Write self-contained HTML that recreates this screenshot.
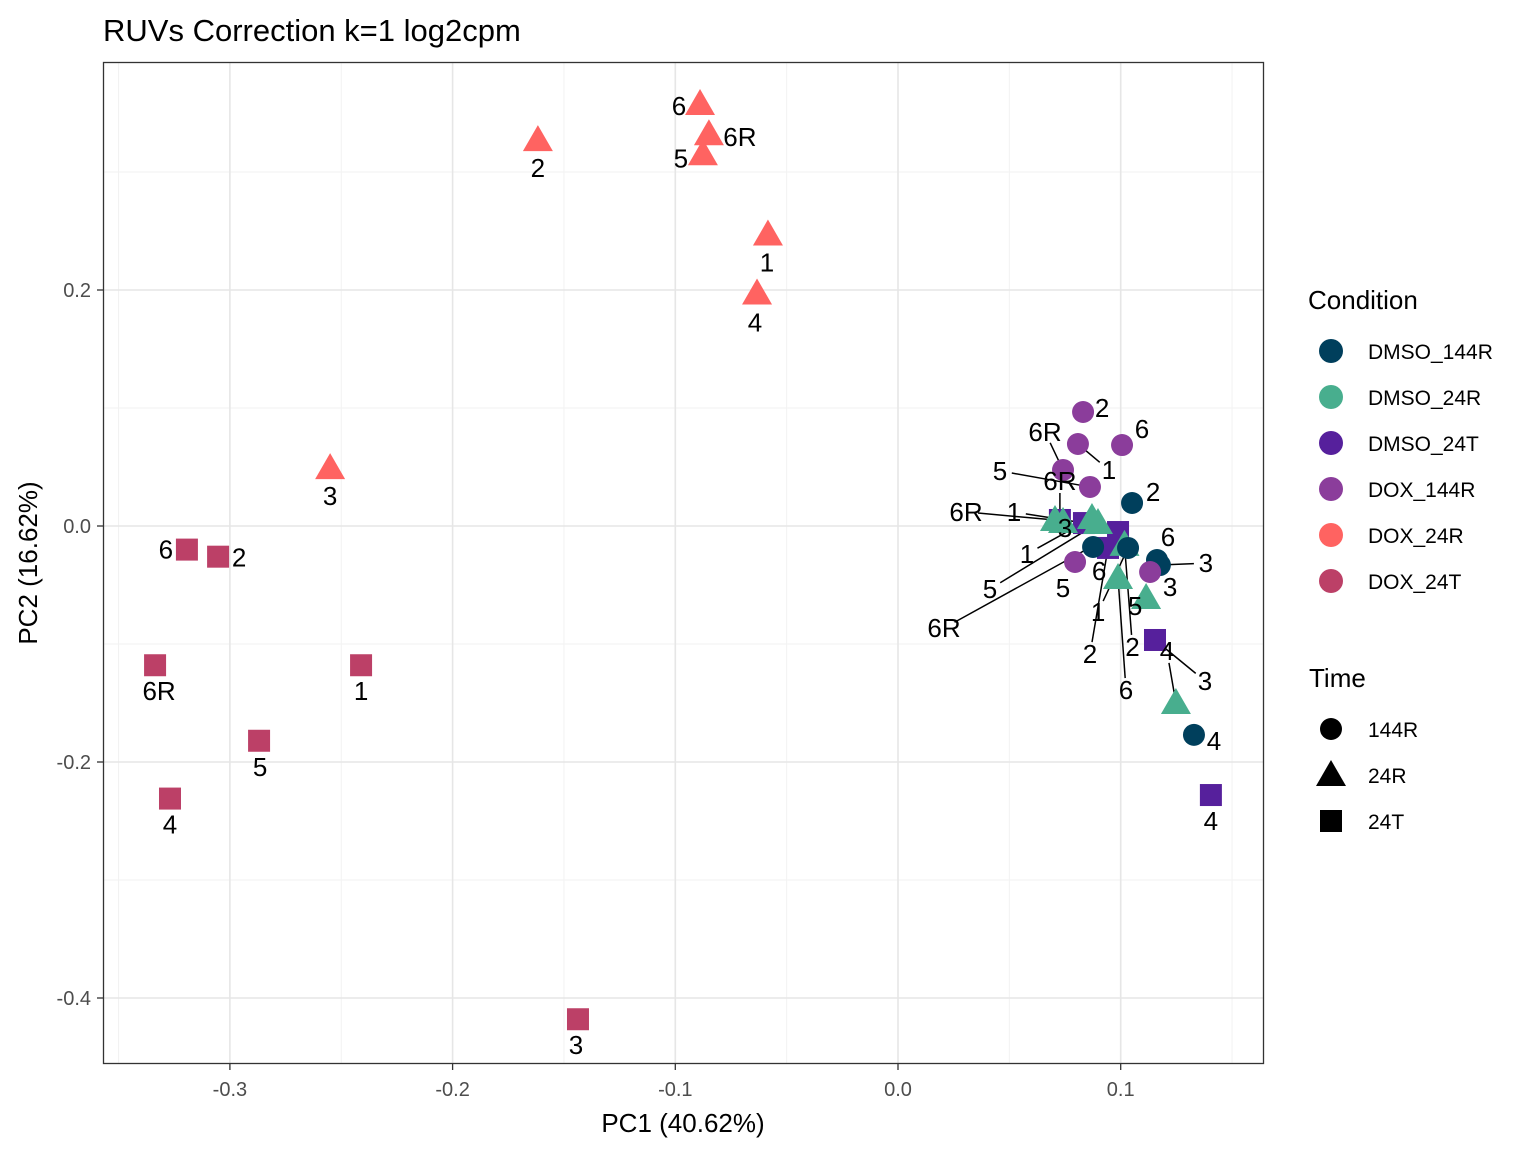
<!DOCTYPE html>
<html><head><meta charset="utf-8"><style>
html,body{margin:0;padding:0;background:#fff;}
svg{display:block;font-family:"Liberation Sans",sans-serif;}
</style></head><body>
<svg id="chart" width="1536" height="1152" viewBox="0 0 1536 1152">
<text x="103" y="41" font-size="31" fill="#000">RUVs Correction k=1 log2cpm</text>
<g id="grid"></g>
<g id="segs"></g>
<g id="pts"></g>
<g id="labs"></g>
<rect x="103.5" y="62.5" width="1160" height="1001" fill="none" stroke="#333" stroke-width="1.3"/>
<g id="axes"></g>
<text x="683" y="1132" font-size="26" text-anchor="middle">PC1 (40.62%)</text>
<text transform="translate(37,563) rotate(-90)" font-size="26" text-anchor="middle">PC2 (16.62%)</text>
<g id="legend"></g>
</svg>
<script>
const xTicks=[-0.3,-0.2,-0.1,0.0,0.1];
const xTickLabels=["-0.3","-0.2","-0.1","0.0","0.1"];
const yTicks=[0.2,0.0,-0.2,-0.4];
const yTickLabels=["0.2","0.0","-0.2","-0.4"];
const conditions=["DMSO_144R","DMSO_24R","DMSO_24T","DOX_144R","DOX_24R","DOX_24T"];
const colors={"DMSO_144R":"#003f5c","DMSO_24R":"#48ae8e","DMSO_24T":"#56209c","DOX_144R":"#8b3d9b","DOX_24R":"#ff6361","DOX_24T":"#bc4067"};
const times=["144R","24R","24T"];
const pcx=[-0.0889,-0.0849,-0.0876,-0.1617,-0.0584,-0.0633,-0.255,
 -0.3193,-0.3053,-0.3336,-0.2411,-0.2869,-0.3269,-0.1437,
 0.0727,0.0835,0.0988,0.0943,0.1154,0.1405,
 0.0705,0.0871,0.0898,0.0988,0.1114,0.1248,0.0741,0.1017,
 0.1051,0.1163,0.1176,0.0876,0.1033,0.1329,
 0.0831,0.1006,0.0808,0.0741,0.0862,0.0795,0.1132];
const pcy=[0.3576,0.332,0.315,0.327,0.247,0.197,0.049,
 -0.020,-0.026,-0.118,-0.118,-0.182,-0.231,-0.418,
 0.0051,0.0025,-0.0051,-0.0186,-0.0966,-0.228,
 0.0051,0.0068,0.0025,-0.0441,-0.061,-0.150,0.0034,-0.016,
 0.0195,-0.0288,-0.0331,-0.0178,-0.0186,-0.177,
 0.0966,0.0686,0.0695,0.0475,0.0331,-0.0305,-0.039];
const cond=["DOX_24R","DOX_24R","DOX_24R","DOX_24R","DOX_24R","DOX_24R","DOX_24R",
 "DOX_24T","DOX_24T","DOX_24T","DOX_24T","DOX_24T","DOX_24T","DOX_24T",
 "DMSO_24T","DMSO_24T","DMSO_24T","DMSO_24T","DMSO_24T","DMSO_24T",
 "DMSO_24R","DMSO_24R","DMSO_24R","DMSO_24R","DMSO_24R","DMSO_24R","DMSO_24R","DMSO_24R",
 "DMSO_144R","DMSO_144R","DMSO_144R","DMSO_144R","DMSO_144R","DMSO_144R",
 "DOX_144R","DOX_144R","DOX_144R","DOX_144R","DOX_144R","DOX_144R","DOX_144R"];
const labels=["6","6R","5","2","1","4","3",
 "6","2","6R","1","5","4","3",
 "6R","1","6R","2","3","4",
 "6R","1","5","6","5","4","3","2",
 "2","6","3","6","1","4",
 "2","6","1","6R","5","5","3"];
const ldx=[-21,31,-22,0,-1,-2,0, -21,21,4,0,1,0,-2, 0,-70,-174,-18,50,0, -89,-65,-108,8,-11,-9,2,8, 21,11,46,6,-30,20, 19,20,31,-18,-90,-12,20];
const ldy=[2,3,4,28,28,29,28, 0,1,26,26,26,26,26, -39,-11,96,106,41,26, -8,36,66,112,8,-52,6,102, -11,-23,-2,24,64,6, -4,-16,26,-38,-16,26,15];

const X0=898,XS=2227,Y0=526,YS=1180;
const sx=v=>X0+v*XS, sy=v=>Y0-v*YS;
const NS="http://www.w3.org/2000/svg";
function mk(tag,attrs,parent){const e=document.createElementNS(NS,tag);for(const k in attrs)e.setAttribute(k,attrs[k]);parent.appendChild(e);return e;}
const grid=document.getElementById('grid'),axes=document.getElementById('axes');
[-0.35,-0.25,-0.15,-0.05,0.05,0.15].forEach(v=>{const x=sx(v);if(x>103&&x<1264){const l=mk('line',{x1:x,x2:x,y1:62,y2:1064,stroke:'#f2f2f2','stroke-width':1},grid);}});
[0.3,0.1,-0.1,-0.3].forEach(v=>{const y=sy(v);const l=mk('line',{x1:103,x2:1264,y1:y,y2:y,stroke:'#f2f2f2','stroke-width':1},grid);});
xTicks.forEach((v,i)=>{const x=sx(v);
 const g=mk('line',{x1:x,x2:x,y1:62,y2:1064,stroke:'#e6e6e6','stroke-width':1.6},grid);
 const t=mk('line',{x1:x,x2:x,y1:1064,y2:1070,stroke:'#333','stroke-width':1.3},axes);
 const tx=mk('text',{x:x,y:1096,'font-size':20,'text-anchor':'middle',fill:'#4d4d4d'},axes);tx.textContent=xTickLabels[i];});
yTicks.forEach((v,i)=>{const y=sy(v);
 const g=mk('line',{x1:103,x2:1264,y1:y,y2:y,stroke:'#e6e6e6','stroke-width':1.6},grid);
 const t=mk('line',{x1:97,x2:103,y1:y,y2:y,stroke:'#333','stroke-width':1.3},axes);
 const tx=mk('text',{x:91,y:y+7,'font-size':20,'text-anchor':'end',fill:'#4d4d4d'},axes);tx.textContent=yTickLabels[i];});

function shape(t,x,y,col,parent){
 if(t==="144R")return mk('circle',{cx:x,cy:y,r:11,fill:col},parent);
 if(t==="24R")return mk('polygon',{points:`${x},${y-15} ${x-15},${y+11} ${x+15},${y+11}`,fill:col},parent);
 return mk('rect',{x:x-11,y:y-11,width:22,height:22,fill:col},parent);
}
const pts=document.getElementById('pts'),labs=document.getElementById('labs'),segs=document.getElementById('segs');
pcx.forEach((v,i)=>{
 const c=cond[i],t=c.split('_')[1],x=sx(v),y=sy(pcy[i]);
 const s=shape(t,x,y,colors[c],pts);
 
 
 const lx=x+ldx[i],ly=y+ldy[i],d=Math.hypot(ldx[i],ldy[i]);
 if(d>34){const f=(d-12)/d;const sg=mk('line',{x1:x,y1:y,x2:x+ldx[i]*f,y2:y+ldy[i]*f,stroke:'#000','stroke-width':1.5},segs);
  }
 const tx=mk('text',{x:lx,y:ly+9,'font-size':26,'text-anchor':'middle',fill:'#000'},labs);tx.textContent=labels[i];
 
});
const lg=document.getElementById('legend');
let tt=mk('text',{x:1308,y:309,'font-size':26},lg);tt.textContent="Condition";
conditions.forEach((c,i)=>{const y=351+i*46;
 const s=mk('circle',{cx:1331,cy:y,r:12,fill:colors[c]},lg);
 const t=mk('text',{x:1368,y:y+8,'font-size':21},lg);t.textContent=c;});
tt=mk('text',{x:1309,y:687,'font-size':26},lg);tt.textContent="Time";
times.forEach((t,i)=>{const y=729+i*46;
 const s=shape(t,1331,y,'#000',lg);
 const tx=mk('text',{x:1368,y:y+8,'font-size':21},lg);tx.textContent=t;});
</script>
</body></html>
